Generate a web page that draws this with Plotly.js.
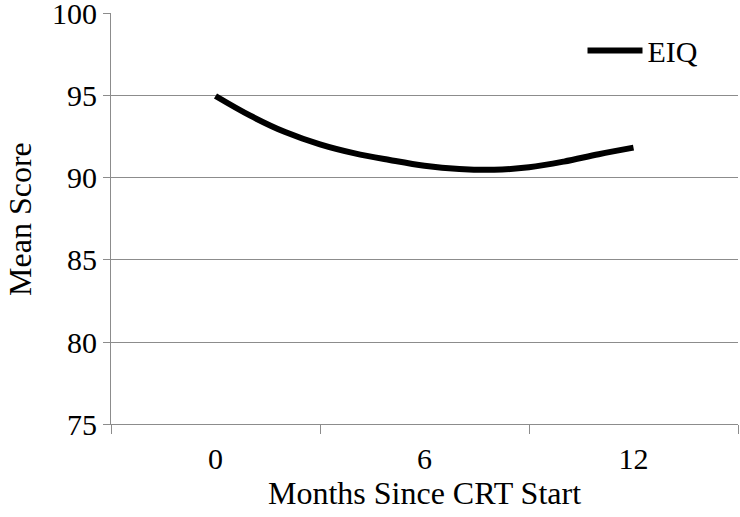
<!DOCTYPE html>
<html>
<head>
<meta charset="utf-8">
<script src="https://cdn.plot.ly/plotly-3.0.1.min.js"></script>
<style>html,body{margin:0;padding:0;background:#fff;}#chart{width:740px;height:517px;}</style>
</head>
<body>
<div id="chart"></div>
<script>
// Data
const months = [0, 1, 2, 3, 4, 5, 6, 7, 8, 9, 10, 11, 12];
const eiqScores = [95.0, 93.8, 92.8, 92.05, 91.5, 91.1, 90.75, 90.55, 90.5, 90.65, 91.0, 91.45, 91.85];
const seriesName = "EIQ";
const xTickVals = [0, 6, 12];
const xTickText = ["0", "6", "12"];
const xBoundaryTicks = [-3, 3, 9, 15];
const yTickVals = [75, 80, 85, 90, 95, 100];
const xTitle = "Months Since CRT Start";
const yTitle = "Mean Score";

const FONT = "Liberation Serif, Times New Roman, serif";
const GRID = "#8c8c8c";
const FS_TITLE = 32;
const FS_TICK = 30;

const traces = [
  {
    x: months, y: eiqScores, name: seriesName, type: "scatter", mode: "lines",
    line: {color: "#000", width: 6, shape: "spline", smoothing: 1},
    xaxis: "x", yaxis: "y"
  },
  {
    x: [xBoundaryTicks[0]], y: [yTickVals[0]], type: "scatter", mode: "markers",
    marker: {opacity: 0}, showlegend: false, hoverinfo: "skip",
    xaxis: "x2", yaxis: "y"
  }
];

const layout = {
  width: 740, height: 517,
  margin: {l: 111, r: 2, t: 13, b: 93},
  paper_bgcolor: "#fff", plot_bgcolor: "#fff",
  font: {family: FONT, size: FS_TICK, color: "#000"},
  showlegend: true,
  legend: {x: 0.752, y: 0.972, xanchor: "left", yanchor: "top", bgcolor: "rgba(0,0,0,0)",
           font: {family: FONT, size: FS_TICK, color: "#000"}, itemwidth: 55},
  xaxis: {
    range: [-3, 15], tickmode: "array", tickvals: xTickVals, ticktext: xTickText,
    ticks: "", showgrid: false, zeroline: false, showline: true,
    linecolor: GRID, linewidth: 1, ticklabelstandoff: 8,
    tickfont: {family: FONT, size: FS_TICK},
    title: {text: xTitle, font: {family: FONT, size: FS_TITLE}, standoff: 5},
    fixedrange: true
  },
  xaxis2: {
    overlaying: "x", anchor: "y", side: "bottom",
    range: [-3, 15], tickmode: "array", tickvals: xBoundaryTicks,
    ticks: "outside", ticklen: 9, tickcolor: GRID, tickwidth: 1,
    showticklabels: false, showgrid: false, zeroline: false, showline: false
  },
  yaxis: {
    range: [75, 100.06], tickmode: "array", tickvals: yTickVals,
    ticks: "outside", ticklen: 7, tickcolor: GRID, tickwidth: 1,
    ticklabeloverflow: "allow", tickfont: {family: FONT, size: FS_TICK},
    showgrid: true, gridcolor: GRID, gridwidth: 1, zeroline: false,
    showline: true, linecolor: GRID, linewidth: 1,
    fixedrange: true
  },
  annotations: [
    {text: yTitle, xref: "paper", yref: "paper", x: -0.146, y: 0.5,
     xanchor: "center", yanchor: "middle", textangle: -90, showarrow: false,
     font: {family: FONT, size: FS_TITLE, color: "#000"}}
  ]
};

Plotly.newPlot("chart", traces, layout, {staticPlot: true, displayModeBar: false});
</script>
</body>
</html>
